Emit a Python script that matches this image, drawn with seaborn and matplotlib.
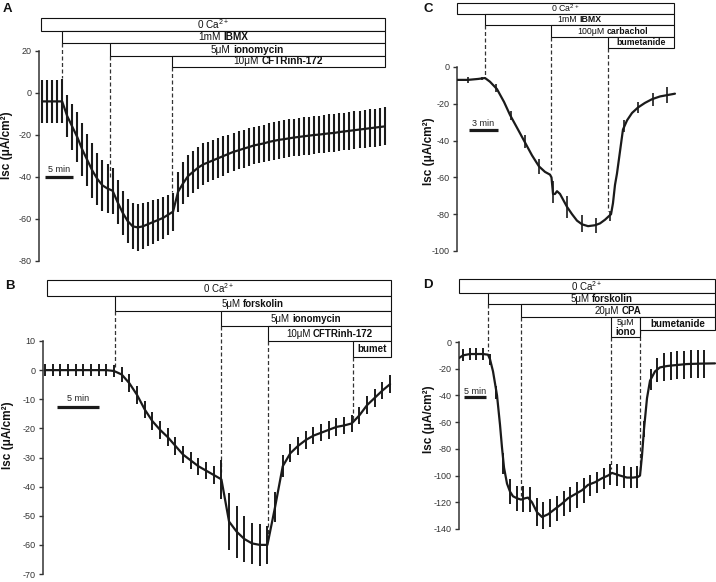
import numpy as np
import matplotlib
matplotlib.use('Agg')
import matplotlib.pyplot as plt
import seaborn as sns
from matplotlib.patches import Rectangle
from matplotlib.offsetbox import TextArea, HPacker, VPacker, AnnotationBbox

sns.set_style('ticks')
plt.rcParams['font.family'] = ['Liberation Sans', 'DejaVu Sans']
plt.rcParams['axes.unicode_minus'] = False
plt.rcParams['mathtext.fontset'] = 'custom'
plt.rcParams['mathtext.rm'] = 'Liberation Sans'
plt.rcParams['mathtext.bf'] = 'Liberation Sans:bold'

# ---------------- data ----------------
# Panel A (sample step 0.9 min)
A_step = 0.9
A_mean = [-4, -4, -4, -4, -4, -11, -16, -21, -27, -32, -37, -41, -44, -45.5, -46.5,
          -52, -57, -61, -63.5, -64, -63.5, -62.5, -61.5, -60.5, -59.5, -58, -56.5,
          -47, -43, -39.5, -37.5, -35.5, -34, -33, -32, -31, -30,
          -29, -28, -27.3, -26.5, -25.8, -25, -24.5, -24, -23.3, -22.8,
          -22.3, -22, -21.6, -21.2, -20.9, -20.6, -20.3, -20, -19.8, -19.5,
          -19.2, -19, -18.6, -18.3, -18, -17.7, -17.4, -17.1, -16.8, -16.5,
          -16.2, -15.9]
A_sem = [10.3, 10.3, 10.3, 10.3, 10.5, 10, 11, 12, 12.5, 12.5, 13, 12.5, 12, 11.5, 11,
         10.5, 10.5, 10.5, 11, 11, 11, 10.5, 10.5, 10, 10, 9.5, 9,
         9.5, 10, 10, 10, 10, 10, 9.5, 9.5, 9.5, 9.5,
         9, 9, 9, 9, 9, 9, 9, 9, 9, 9,
         9, 9, 9, 9, 9, 9, 9, 9, 9, 9,
         9, 9, 9, 9, 9, 9, 9, 9, 9, 9,
         9, 9]
A_events = [3.6, 12.1, 23.2]

# Panel B (sample step 0.913 min)
B_step = 0.913
B_mean = [0, 0, 0, 0, 0, 0, 0, 0, 0, -0.3, -1.5, -4.5, -8.5, -13.5, -17.5, -20.5,
          -23, -26, -29, -31, -33, -34.5, -36, -37.5, -52, -55.5, -58, -59.5, -60,
          -60, -47, -33, -28.5, -26, -24, -22.5, -21.5, -20.5, -19.5, -19, -18.3,
          -15.5, -12, -9.5, -7, -4.8]
B_sem = [2, 2, 2, 2, 2, 2, 2, 2, 2, 2, 2.5, 3, 3, 3, 3, 3, 3, 3, 3, 3, 3, 3, 3,
         6.8, 9.8, 8.9, 8, 7.1, 7.1, 6.4, 5, 3.7, 3, 3, 3, 3, 3, 3, 3, 3, 3,
         3, 3, 3, 3, 3]
B_events = [8.33, 20.95, 26.55, 36.67]

# Panel C
C_line_t = [0, 1.13, 2.16, 2.89, 3.40, 4.12, 4.85, 5.46, 6.29, 7.01, 7.73, 8.45, 9.07,
            9.59, 9.74, 9.90, 10.10, 10.31, 10.62, 11.03, 11.34, 11.86, 12.37, 12.89,
            13.51, 14.23, 14.74, 15.26, 15.67, 15.88, 16.08, 16.29, 16.49, 16.80,
            17.11, 17.53, 18.04, 18.66, 19.38, 20.10, 20.93, 21.65, 22.47]
C_line_v = [-7, -7, -6.5, -6, -8, -12, -19, -26, -34, -41, -48, -54, -57,
            -58.5, -60, -69, -69, -67.5, -69, -73, -76, -80, -83.5, -85.5,
            -86.5, -86, -85, -83, -81, -80, -74, -64, -58, -46,
            -34, -29, -25, -22, -19.5, -17.5, -16, -15.3, -14.5]
C_bar_t = [1.13, 2.60, 4.06, 5.53, 6.99, 8.45, 9.92, 11.38, 12.85, 14.31, 15.78,
           17.24, 18.70, 20.17, 21.63]
C_bar_v = [-7, -6.2, -11.5, -26.5, -40.5, -54, -68, -76, -85, -86, -81, -32, -22,
           -17.5, -15.3]
C_bar_e = [1.5, 1.0, 2.0, 2.4, 3.4, 4.0, 6.0, 5.9, 4.8, 4.0, 2.5, 3.2, 3.2, 3.6, 4.3]
C_events = [2.89, 9.69, 15.57]

# Panel D
D_line_t = [0, 0.91, 2.5, 5.45, 6.59, 7.05, 7.73, 8.64, 9.32, 9.77, 10.23, 10.91,
            11.59, 12.27, 13.18, 14.09, 15.0, 15.68, 16.59, 17.73, 18.86, 20.23,
            21.82, 23.41, 24.77, 26.36, 27.95, 29.32, 30.91, 32.5, 33.86, 34.77,
            35.68, 36.59, 38.18, 39.55, 40.68, 41.14, 41.59, 42.05, 42.73, 43.41,
            44.55, 45.68, 47.27, 48.64, 51.82, 54.77, 58.18]
D_line_v = [-12, -10, -9, -9, -9.5, -13, -22, -40, -62, -79, -94, -106,
            -112, -115.5, -117, -118, -117, -116.5, -120, -127.5, -131, -129,
            -125, -121, -117, -114, -111, -107, -105, -102, -100, -98,
            -99, -100, -101.5, -101.5, -101, -100, -85, -65, -42, -29,
            -22, -19, -18, -17.5, -16.5, -16.2, -16]
D_bar_t = [0.91, 2.43, 3.96, 5.48, 7.00, 8.52, 10.05, 11.57, 13.09, 14.62, 16.14,
           17.66, 19.18, 20.71, 22.23, 23.75, 25.28, 26.80, 28.32, 29.84, 31.37,
           32.89, 34.41, 35.94, 37.46, 38.98, 40.50, 42.03, 43.55, 45.07, 46.60,
           48.12, 49.64, 51.16, 52.69, 54.21, 55.73]
D_bar_v = [-10, -9, -9, -9, -13, -38, -91, -112, -117, -117.5, -118, -127.5, -130.5,
           -128, -124.5, -121, -118, -114.5, -111, -107.5, -105, -102, -99, -99.5,
           -101, -101.5, -101, -65, -28, -21, -18.5, -18, -17.5, -17, -16.7, -16.4,
           -16.2]
D_bar_e = [4.4, 4.4, 4.4, 4.4, 4, 5, 8, 9.4, 9.4, 9.4, 9.4, 10.4, 10.4, 10.4, 9.5,
           9.5, 9.5, 9.5, 9.5, 8, 8, 8, 8, 8, 8, 8, 8, 6, 8, 9, 10.5, 10.5, 10.5,
           10.5, 10.5, 10.5, 10.5]
D_events = [6.59, 14.09, 34.55, 41.14]

YLABEL = 'Isc (μA/cm²)'

# ---------------- figure ----------------
W, H = 716, 582
fig = plt.figure(figsize=(W / 100, H / 100), dpi=100)
INK = '#1a1a1a'


def px_axes(left, right, top, bottom):
    return fig.add_axes([left / W, 1 - bottom / H, (right - left) / W, (bottom - top) / H])


def style_axes(ax, xlim, ylim, yticks):
    ax.set_xlim(*xlim)
    ax.set_ylim(*ylim)
    ax.set_yticks(yticks)
    ax.set_xticks([])
    for s in ['top', 'right', 'bottom']:
        ax.spines[s].set_visible(False)
    ax.spines['left'].set_linewidth(1.1)
    ax.spines['left'].set_color('#333333')
    ax.tick_params(axis='y', length=3, width=1, color='#333333', labelsize=6.5,
                   labelcolor='#333333', pad=2.5)
    ax.patch.set_alpha(0)
    ax.set_xlabel('')
    ax.set_ylabel('')


def series(ax, tb, vb, eb, tl, vl, elw=1.4):
    ax.errorbar(tb, vb, yerr=eb, fmt='none', ecolor=INK, elinewidth=elw, capsize=0,
                zorder=2)
    sns.lineplot(x=tl, y=vl, ax=ax, color=INK, lw=1.6, sort=False, zorder=3,
                 estimator=None)


def mixed(ax, x, y, parts, fs):
    areas = []
    for s, w in parts:
        areas.append(TextArea(s, textprops=dict(fontsize=fs, fontweight=w, color='#111111')))
    if len(areas) == 1:
        box = areas[0]
    else:
        box = HPacker(children=areas, align='baseline', pad=0, sep=fs * 0.28)
    ab = AnnotationBbox(box, (x, y), xycoords='data', frameon=False,
                        box_alignment=(0.5, 0.5), pad=0, annotation_clip=False, zorder=5)
    ax.add_artist(ab)


def drug_box(ax, t0, t1, ytop, ybot, parts, fs):
    ax.add_patch(Rectangle((t0, ybot), t1 - t0, ytop - ybot, facecolor='white',
                           edgecolor='#111111', lw=0.8, clip_on=False, zorder=4))
    if parts is not None:
        mixed(ax, (t0 + t1) / 2, (ytop + ybot) / 2, parts, fs)


def dash(ax, t, y0, y1):
    ax.plot([t, t], [y0, y1], ls=(0, (3.2, 2.0)), color='#333333', lw=0.9,
            clip_on=False, zorder=1)


def scalebar(ax, t0, t1, y, ly, label):
    ax.plot([t0, t1], [y, y], color=INK, lw=2.3, solid_capstyle='butt', clip_on=False)
    ax.text((t0 + t1) / 2, ly, label, ha='center', va='center', fontsize=6.5,
            color='#222222')


CA = '0 Ca$^{2+}$'

# ---------------- Panel A ----------------
axA = px_axes(39, 392, 51, 261)
tA = np.arange(len(A_mean)) * A_step
series(axA, tA, A_mean, A_sem, tA, A_mean, elw=1.5)
style_axes(axA, ((39 - 42) / 5.6, (392 - 42) / 5.6), (-80, 20), list(range(-80, 21, 20)))
endA = (385 - 42) / 5.6
fsA = 7.2
drug_box(axA, (41 - 42) / 5.6, endA, 35.7, 29.5, [(CA, 'normal')], fsA)
drug_box(axA, A_events[0], endA, 29.5, 23.8, [('1mM', 'normal'), ('IBMX', 'bold')], fsA)
drug_box(axA, A_events[1], endA, 23.8, 17.6, [('5μM', 'normal'), ('ionomycin', 'bold')], fsA)
drug_box(axA, A_events[2], endA, 17.6, 12.4, [('10μM', 'normal'), ('CFTRinh-172', 'bold')], fsA)
dash(axA, A_events[0], 23.8, 7)
dash(axA, A_events[1], 17.6, -41)
dash(axA, A_events[2], 12.4, -47)
scalebar(axA, 0.54, 5.54, -40, -36.3, '5 min')

# ---------------- Panel B ----------------
axB = px_axes(43, 395, 341, 574)
tB = np.arange(len(B_mean)) * B_step
series(axB, tB, B_mean, B_sem, tB, B_mean)
style_axes(axB, ((43 - 45) / 8.4, (395 - 45) / 8.4), (-70, 10), list(range(-70, 11, 10)))
endB = (391 - 45) / 8.4
fsB = 7.0
drug_box(axB, (47 - 45) / 8.4, endB, 30.9, 25.4, [(CA, 'normal')], fsB)
drug_box(axB, B_events[0], endB, 25.4, 20.3, [('5μM', 'normal'), ('forskolin', 'bold')], fsB)
drug_box(axB, B_events[1], endB, 20.3, 15.1, [('5μM', 'normal'), ('ionomycin', 'bold')], fsB)
drug_box(axB, B_events[2], endB, 15.1, 10.0, [('10μM', 'normal'), ('CFTRinh-172', 'bold')], fsB)
drug_box(axB, B_events[3], endB, 10.0, 4.5, [('bumet', 'bold')], fsB)
dash(axB, B_events[0], 20.3, 0.5)
dash(axB, B_events[1], 15.1, -35)
dash(axB, B_events[2], 10.0, -58)
dash(axB, B_events[3], 4.5, -17)
scalebar(axB, 1.43, 6.43, -12.7, -9.7, '5 min')

# ---------------- Panel C ----------------
axC = px_axes(457, 678, 67, 251)
series(axC, C_bar_t, C_bar_v, C_bar_e, C_line_t, C_line_v, elw=1.2)
style_axes(axC, (0, (678 - 457) / 9.7), (-100, 0), list(range(-100, 1, 20)))
endC = (674 - 457) / 9.7
fsC = 6.3
drug_box(axC, 0, endC, 34.8, 28.8, [(CA, 'normal')], fsC)
drug_box(axC, C_events[0], endC, 28.8, 22.8, [('1mM', 'normal'), ('IBMX', 'bold')], fsC)
drug_box(axC, C_events[1], endC, 22.8, 16.3, [('100μM', 'normal'), ('carbachol', 'bold')], fsC)
drug_box(axC, C_events[2], endC, 16.3, 10.3, [('bumetanide', 'bold')], fsC)
dash(axC, C_events[0], 22.8, -5.5)
dash(axC, C_events[1], 16.3, -56)
dash(axC, C_events[2], 10.3, -78)
scalebar(axC, 1.24, 4.23, -34.2, -30.6, '3 min')

# ---------------- Panel D ----------------
axD = px_axes(459, 716, 342, 529)
series(axD, D_bar_t, D_bar_v, D_bar_e, D_line_t, D_line_v, elw=1.4)
style_axes(axD, (0, (716 - 459) / 4.4), (-140, 0), list(range(-140, 1, 20)))
endD = (715 - 459) / 4.4
fsD = 7.0
drug_box(axD, 0, endD, 47.2, 36.7, [(CA, 'normal')], fsD)
drug_box(axD, D_events[0], endD, 36.7, 28.4, [('5μM', 'normal'), ('forskolin', 'bold')], fsD)
drug_box(axD, D_events[1], endD, 28.4, 18.7, [('20μM', 'normal'), ('CPA', 'bold')], fsD)
drug_box(axD, D_events[2], D_events[3], 18.7, 3.7, None, fsD)
drug_box(axD, D_events[3], endD, 18.7, 9.0, [('bumetanide', 'bold')], fsD)
iono = VPacker(children=[TextArea('5μM', textprops=dict(fontsize=6.5, color='#111111')),
                         TextArea('iono', textprops=dict(fontsize=7, fontweight='bold',
                                                         color='#111111'))],
               align='center', pad=0, sep=0)
axD.add_artist(AnnotationBbox(iono, ((D_events[2] + D_events[3]) / 2, 11.2), xycoords='data',
                              frameon=False, box_alignment=(0.5, 0.5), pad=0,
                              annotation_clip=False, zorder=5))
dash(axD, D_events[0], 28.4, -7)
dash(axD, D_events[1], 18.7, -115)
dash(axD, D_events[2], 3.7, -95)
dash(axD, D_events[3], 9.0, -96)
scalebar(axD, 1.14, 6.14, -41.2, -37.0, '5 min')

# ---------------- labels ----------------
for letter, x, y in [('A', 3, 9.5), ('B', 5, 286), ('C', 423, 9.5), ('D', 423, 284.5)]:
    fig.text(x / W, 1 - y / H, letter, fontsize=9.5, fontweight='bold', ha='left',
             va='center', color='#111111')
for x, y in [(7, 145), (8, 435), (429, 151), (429, 419)]:
    fig.text(x / W, 1 - y / H, YLABEL, rotation=90, fontsize=8.5, fontweight='bold',
             ha='center', va='center', color='#111111')

fig.savefig('out.png', dpi=100)
